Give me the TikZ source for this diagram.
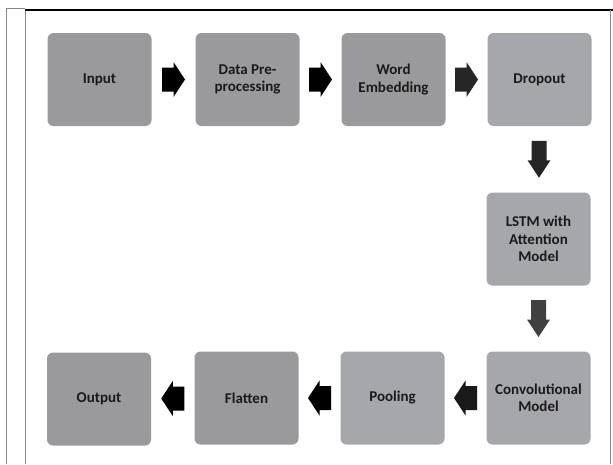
\documentclass[tikz,border=0pt]{standalone}
\usepackage{fontspec}
\setmainfont{Carlito}
\usetikzlibrary{calc}
\definecolor{boxA}{HTML}{9A9A9C}
\definecolor{boxB}{HTML}{A6A7AB}
\definecolor{txt}{HTML}{1A1A1A}
\definecolor{frameg}{HTML}{8A8A8A}
\tikzset{
  stage/.style={rounded corners=6pt, minimum width=104pt, minimum height=93pt,
    inner sep=0pt, align=center, text=txt,
    font=\fontsize{15}{17.5}\selectfont\bfseries},
  stageA/.style={stage, fill=boxA},
  stageB/.style={stage, fill=boxB},
  harrow/.pic={\fill (-11.5,-12) -- (0,-12) -- (0,-17.5) -- (11.5,0) -- (0,17.5) -- (0,12) -- (-11.5,12) -- cycle;},
  varrow/.pic={\fill (-18.5,-7.5) -- (1,-7.5) -- (1,-11.5) -- (18.5,0) -- (1,11.5) -- (1,7.5) -- (-18.5,7.5) -- cycle;}
}
\begin{document}
\begin{tikzpicture}[x=1pt,y=-1pt]
\useasboundingbox (0,0) rectangle (613,464);
\fill[white] (0,0) rectangle (613,464);
% frame
\draw[frameg, line width=0.8pt] (6,464) -- (6,8) -- (25,8);
\draw[frameg, line width=1pt] (25,464) -- (25,10);
\draw[black, line width=2pt] (25,10) -- (613,10);
\draw[frameg, line width=0.8pt] (610,10) -- (610,464);
% nodes
\node[stageA] (in)   at (99.5,79.5)  {Input};
\node[stageA] (dp)   at (247.5,79.5) {Data Pre-\\processing};
\node[stageA] (we)   at (393.5,79.5) {Word\\Embedding};
\node[stageB] (dr)   at (539.5,79.5) {Dropout};
\node[stageB] (ls)   at (538.5,239)  {LSTM with\\Attention\\Model};
\node[stageB] (cv)   at (538.5,398)  {Convolutional\\Model};
\node[stageB] (po)   at (392.5,398)  {Pooling};
\node[stageA] (fl)   at (246.5,398)  {Flatten};
\node[stageA] (out)  at (99,399)     {Output};
% connectors
\pic[black] at ($(in.east)!0.5!(dp.west)$) {harrow};
\pic[black] at ($(dp.east)!0.5!(we.west)$) {harrow};
\pic[black!85] at ($(we.east)!0.5!(dr.west)$) {harrow};
\pic[black!85, rotate=-90] at ($(dr.south)!0.5!(ls.north)$) {varrow};
\pic[black!75, rotate=-90] at ($(ls.south)!0.5!(cv.north)$) {varrow};
\pic[black!90, rotate=180] at ($(cv.west)!0.5!(po.east)$) {harrow};
\pic[black, rotate=180] at ($(po.west)!0.5!(fl.east)$) {harrow};
\pic[black, rotate=180] at ($(fl.west)!0.5!(out.east)$) {harrow};
\end{tikzpicture}
\end{document}
